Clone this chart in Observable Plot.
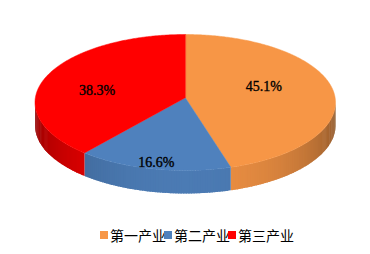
<!DOCTYPE html>
<html>
<head>
<meta charset="utf-8">
<script src="https://cdn.jsdelivr.net/npm/d3@7"></script>
<script src="https://cdn.jsdelivr.net/npm/@observablehq/plot@0.6"></script>
<style>
  html, body { margin: 0; padding: 0; background: #fff; width: 370px; height: 254px; overflow: hidden; }
  #chart svg { display: block; }
  #legend { position: relative; height: 18px; margin-top: 4px; font-family: "Noto Sans CJK SC", sans-serif; font-size: 14px; line-height: 18px; color: #000; white-space: nowrap; }
  .item { position: absolute; top: 0; display: flex; align-items: center; }
  .sw { width: 8px; height: 8px; margin-right: 2px; }
</style>
</head>
<body>
<div id="chart"></div>
<div id="legend"></div>
<script>
const categories = ["第一产业", "第二产业", "第三产业"];
const values = [45.1, 16.6, 38.3];
const labels = ["45.1%", "16.6%", "38.3%"];
const colors = ["#F79646", "#4F81BD", "#FF0000"];

const D = 23 / 68; // depth in unit radius of the y axis
const arcs = d3.pie().sort(null).value(d => d)(values);
const deg = Math.PI / 180;
const apexY = -0.07;

// top faces
const topRows = [];
arcs.forEach((a, i) => {
  topRows.push({id: "t" + i, x: 0, y: apexY, fill: colors[i]});
  const n = Math.max(2, Math.ceil((a.endAngle - a.startAngle) / (0.5 * deg)));
  for (let k = 0; k <= n; k++) {
    const t = a.startAngle + (a.endAngle - a.startAngle) * k / n;
    topRows.push({id: "t" + i, x: Math.sin(t), y: -Math.cos(t), fill: colors[i]});
  }
});

// visible side wall (front half), shaded strips (slightly overlapping to avoid seams)
function shade(c, t) {
  const f = 0.55 + 0.4 * Math.sin(t - Math.PI / 2);
  const r = d3.rgb(c);
  return d3.rgb(r.r * f, r.g * f, r.b * f).formatHex();
}
const sideRows = [];
arcs.forEach((a, i) => {
  const s = Math.max(a.startAngle, Math.PI / 2), e = Math.min(a.endAngle, 3 * Math.PI / 2);
  if (e <= s) return;
  const n = Math.ceil((e - s) / deg);
  for (let k = 0; k < n; k++) {
    const t0 = s + (e - s) * k / n;
    const t1 = Math.min(e, s + (e - s) * (k + 1) / n + 0.6 * deg);
    const id = "s" + i + "_" + k;
    const fill = shade(colors[i], s + (e - s) * (k + 0.5) / n);
    sideRows.push({id, x: Math.sin(t0), y: -Math.cos(t0), fill});
    sideRows.push({id, x: Math.sin(t1), y: -Math.cos(t1), fill});
    sideRows.push({id, x: Math.sin(t1), y: -Math.cos(t1) + D, fill});
    sideRows.push({id, x: Math.sin(t0), y: -Math.cos(t0) + D, fill});
  }
});

// labels
const labelR = [0.55, 0.91, 0.6];
const labelDx = [-3, 0, -4];
const labelDy = [-10, 0, 3];
const labelRows = arcs.map((a, i) => {
  const m = (a.startAngle + a.endAngle) / 2;
  return {x: Math.sin(m) * labelR[i], y: -Math.cos(m) * labelR[i], text: labels[i], dx: labelDx[i], dy: labelDy[i]};
});

const chart = Plot.plot({
  width: 370,
  height: 222,
  margin: 0,
  x: {domain: [-1, 1], range: [34.5, 335], axis: null},
  y: {domain: [-1, 1 + D], range: [34, 193], axis: null},
  color: {type: "identity"},
  marks: [
    Plot.line(sideRows, {x: "x", y: "y", z: "id", fill: "fill", curve: "linear-closed"}),
    Plot.line(topRows, {x: "x", y: "y", z: "id", fill: "fill", stroke: "fill", strokeWidth: 0.5, curve: "linear-closed"}),
    ...labelRows.map(d => Plot.text([d], {x: "x", y: "y", text: "text", dx: d.dx, dy: d.dy, fill: "#000", stroke: "#000", strokeWidth: 0.35, fontSize: 14, fontFamily: "Liberation Serif"}))
  ]
});
document.getElementById("chart").appendChild(chart);

const legendX = [100, 164, 228];
const legend = document.getElementById("legend");
categories.forEach((c, i) => {
  const it = document.createElement("div");
  it.className = "item";
  it.style.left = legendX[i] + "px";
  const sw = document.createElement("span");
  sw.className = "sw";
  sw.style.background = colors[i];
  const tx = document.createElement("span");
  tx.textContent = c;
  it.appendChild(sw);
  it.appendChild(tx);
  legend.appendChild(it);
});
</script>
</body>
</html>
